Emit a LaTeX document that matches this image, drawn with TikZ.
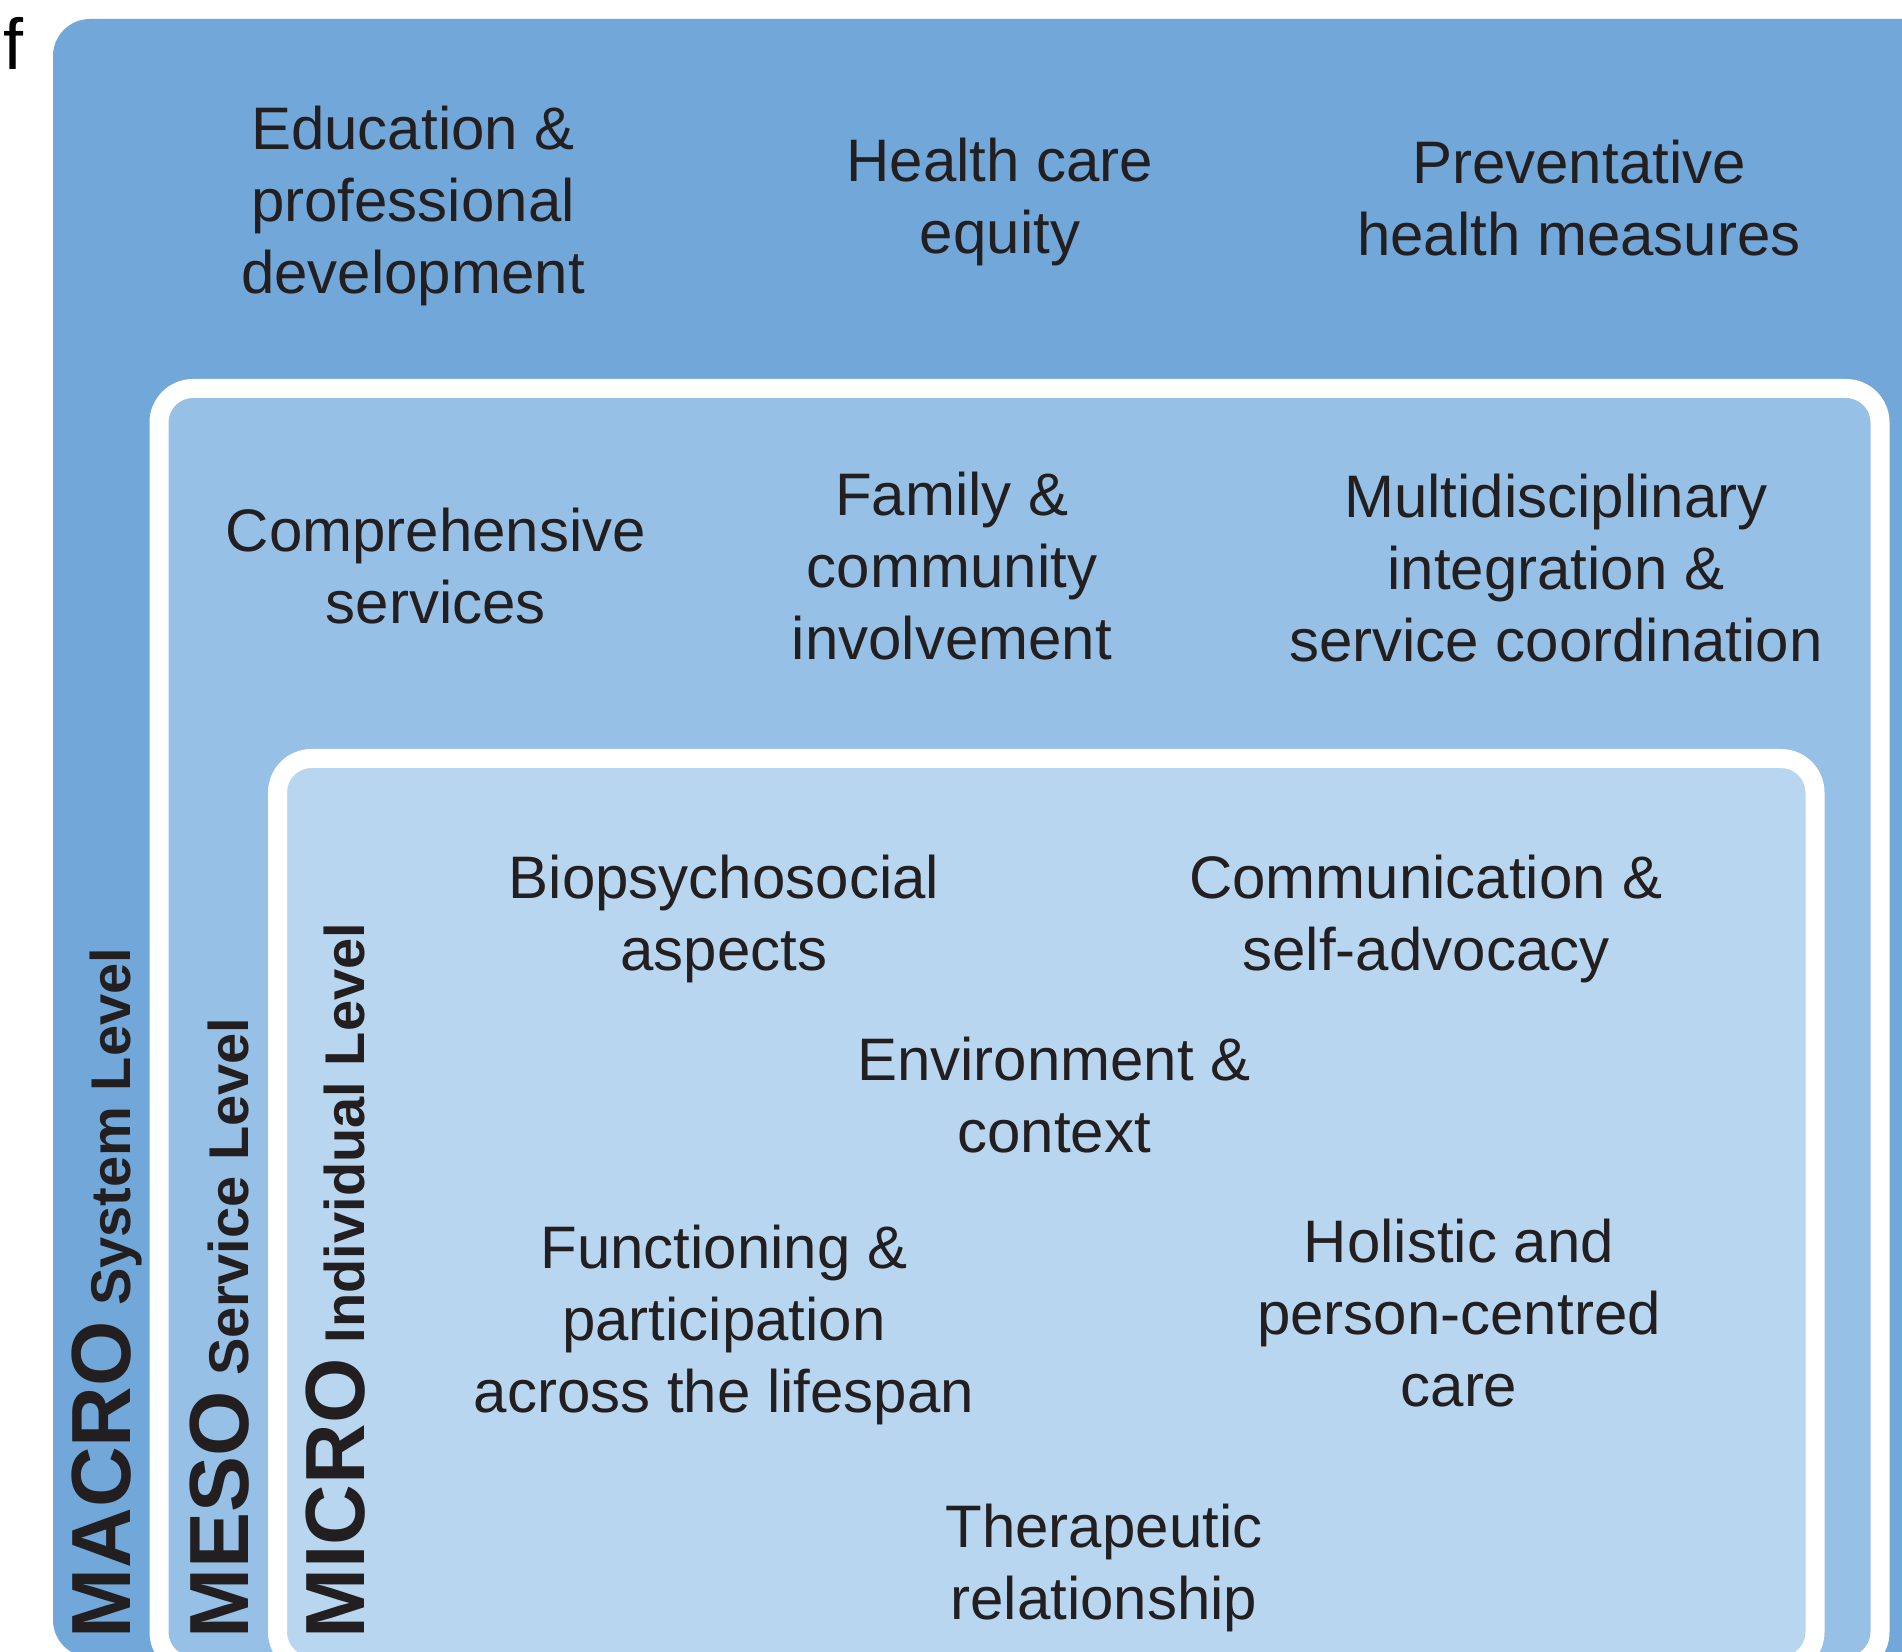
\documentclass[tikz,border=0pt]{standalone}
\usepackage{fontspec}
\setmainfont{Liberation Sans}
\usepackage{xcolor}
\usetikzlibrary{positioning}
\definecolor{macro}{RGB}{114,168,217}
\definecolor{meso}{RGB}{150,192,229}
\definecolor{micro}{RGB}{185,214,240}
\definecolor{ink}{RGB}{35,31,32}
\newcommand{\bigtag}[1]{{\fontsize{42}{42}\selectfont #1}}

\begin{document}
\begin{tikzpicture}[x=0.5pt,y=-0.5pt,
  lvl/.style={fill=#1,draw=white,line width=9.5pt,rounded corners=17pt},
  item/.style={align=center,anchor=base,inner sep=0pt,text=ink,
    font=\fontsize{30}{36}\selectfont},
  tag/.style={rotate=90,anchor=base west,inner sep=0pt,text=ink,
    font=\bfseries\fontsize{28}{34}\selectfont}]
  \useasboundingbox (0,0) rectangle (1902,1652);
  \clip (0,0) rectangle (1902,1652);
  % nested levels
  \fill[macro,rounded corners=18.5pt] (53,19) rectangle (1960,1657);
  \path[lvl=meso] (159,388.5) rectangle (1880,1666);
  \path[lvl=micro] (277.5,758.5) rectangle (1815,1666);
  \node[anchor=base west,inner sep=0pt,text=black,
    font=\fontsize{36}{36}\selectfont] (panel) at (3,70) {f};
  % system level (base = last line)
  \node[item] (edu) at (413,294) {Education \&\\professional\\development};
  \node[item] (equity) at (1000,254) {Health care\\equity};
  \node[item] (prev) at (1579,256) {Preventative\\health measures};
  % service level
  \node[item] (comp) at (436,624) {Comprehensive\\services};
  \node[item] (family) at (952,660) {Family \&\\community\\involvement};
  \node[item] (multi) at (1556,662) {Multidisciplinary\\integration \&\\service coordination};
  % individual level
  \node[item] (bio) at (724,970) {Biopsychosocial\\aspects};
  \node[item] (comm) at (1426,970) {Communication \&\\self-advocacy};
  \node[item] (env) at (1054,1152) {Environment \&\\context};
  \node[item] (func) at (724,1412) {Functioning \&\\participation\\across the lifespan};
  \node[item] (holistic) at (1459,1406) {Holistic and\\person-centred\\care};
  \node[item] (thera) at (1104,1619) {Therapeutic\\relationship};
  % level tags
  \node[tag] (macrotag) at (130,1639) {\bigtag{MACRO} System Level};
  \node[tag] (mesotag) at (248,1639) {\bigtag{MESO} Service Level};
  \node[tag] (microtag) at (364,1639) {\bigtag{MICRO} Individual Level};
\end{tikzpicture}
\end{document}
